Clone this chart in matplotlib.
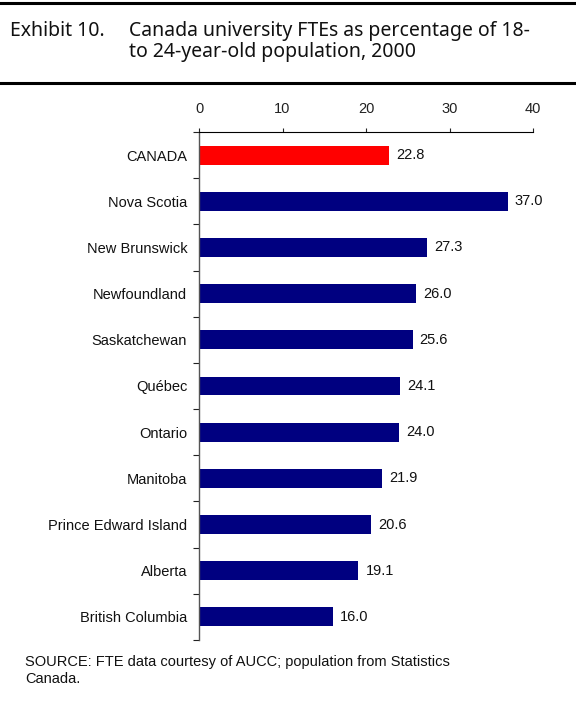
import matplotlib.pyplot as plt
import numpy as np
from matplotlib.lines import Line2D

plt.rcParams['font.family'] = ['Liberation Sans', 'DejaVu Sans']

# University FTEs as % of 18-24 population, 2000
provinces = ['CANADA', 'Nova Scotia', 'New Brunswick', 'Newfoundland',
             'Saskatchewan', 'Québec', 'Ontario', 'Manitoba',
             'Prince Edward Island', 'Alberta', 'British Columbia']
pct = [22.8, 37.0, 27.3, 26.0, 25.6, 24.1, 24.0, 21.9, 20.6, 19.1, 16.0]
bar_colors = ['#ff0000'] + ['#000080'] * (len(provinces) - 1)
x_ticks = [0, 10, 20, 30, 40]

fig = plt.figure(figsize=(5.76, 7.19), dpi=100)
ax = fig.add_axes([199 / 576, 1 - 640 / 719, (533 - 199) / 576, (640 - 132) / 719])

ypos = np.arange(len(provinces))
ax.barh(ypos, pct, height=0.41, color=bar_colors)
for y, v in zip(ypos, pct):
    ax.annotate(f'{v:.1f}', xy=(v, y), xytext=(5, 0), textcoords='offset points',
                ha='left', va='center', fontsize=10.5, color='#111111')

ax.set_xlim(0, 40)
ax.set_ylim(len(provinces) - 0.5, -0.5)
ax.xaxis.tick_top()
ax.set_xticks(x_ticks)
ax.tick_params(axis='x', direction='out', length=3, width=0.8, pad=8.5,
               labelsize=10.5, colors='#222222')
ax.set_yticks(ypos)
ax.set_yticklabels(provinces)
ax.set_yticks(np.arange(-0.5, len(provinces)), minor=True)
ax.tick_params(axis='y', which='major', length=0, pad=8.5, labelsize=10.5,
               labelcolor='#111111')
ax.tick_params(axis='y', which='minor', length=4, width=0.8, direction='out',
               color='#222222')

for side in ['right', 'bottom']:
    ax.spines[side].set_visible(False)
ax.spines['top'].set_linewidth(0.8)
ax.spines['left'].set_linewidth(1.0)
ax.spines['left'].set_color('#555555')

# title box rules
fig.add_artist(Line2D([0, 1], [1 - 3 / 719] * 2, color='black', lw=2.2))
fig.add_artist(Line2D([0, 1], [1 - 83 / 719] * 2, color='black', lw=2.2))

fig.text(10 / 576, 1 - 31 / 719, 'Exhibit 10.', fontsize=14, va='center',
         family='Noto Sans', color='#111111')
fig.text(129 / 576, 1 - 31 / 719, 'Canada university FTEs as percentage of 18-',
         fontsize=14, va='center', family='Noto Sans', color='#111111')
fig.text(129 / 576, 1 - 52 / 719, 'to 24-year-old population, 2000',
         fontsize=14, va='center', family='Noto Sans', color='#111111')

fig.text(25 / 576, 1 - 662 / 719,
         'SOURCE: FTE data courtesy of AUCC; population from Statistics',
         fontsize=10.5, va='center', color='#111111')
fig.text(25 / 576, 1 - 679 / 719, 'Canada.', fontsize=10.5, va='center',
         color='#111111')

fig.savefig('out.png', dpi=100)
